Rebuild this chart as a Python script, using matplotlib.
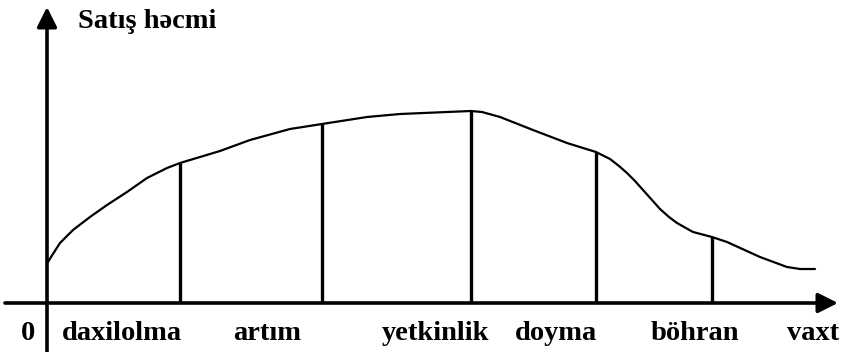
import numpy as np
import matplotlib
matplotlib.use("Agg")
import matplotlib.pyplot as plt

# Product life-cycle curve (time vs sales volume)
time = [1, 4, 13, 26, 43, 60, 80, 100, 120, 133, 153, 173, 203, 243, 275, 320, 353,
        400, 424, 435, 453, 486, 520, 536, 549, 563, 572, 580, 588, 596, 605, 613, 622,
        630, 646, 665, 680, 713, 740, 753, 768]
sales = [41, 46, 60, 73, 86, 98, 111, 125, 135, 140, 146, 152, 163, 174, 179, 186, 189,
         191, 192, 191, 186, 173, 160, 155, 151, 144, 137, 130, 122, 113, 103, 94, 86,
         80, 71, 66, 61, 46, 36, 34, 34]

# Stage boundaries along time axis
boundaries = [133, 275, 424, 549, 665]

# Texts
stage_labels = ["daxilolma", "artım", "yetkinlik", "doyma", "böhran"]
origin_label = "0"
x_label = "vaxt"
y_label = "Satış həcmi"

# Layout (positions of labels, in data units)
stage_label_x = [75, 220, 388, 509, 648]
label_y = -31

fig = plt.figure(figsize=(8.43, 3.52), dpi=100)
ax = fig.add_axes([0, 0, 1, 1])
ax.set_xlim(-47, 796)
ax.set_ylim(-49, 303)
ax.axis("off")

font = dict(family=["Liberation Serif", "DejaVu Serif"], fontweight="bold",
            fontsize=20.5, color="black")

# axes with arrows
arrow = dict(arrowstyle="-|>,head_length=0.6,head_width=0.3", lw=2.6,
             color="black", mutation_scale=20, shrinkA=0, shrinkB=0)
ax.annotate("", xy=(791, 0), xytext=(-42, 0), arrowprops=arrow)
ax.annotate("", xy=(0, 296), xytext=(0, -49), arrowprops=arrow)

# curve
ax.plot(time, sales, color="black", lw=1.6, solid_capstyle="round",
        solid_joinstyle="round")

# vertical stage boundaries
tops = np.interp(boundaries, time, sales)
ax.vlines(boundaries, 0, tops, color="black", lw=2.4)

# labels
for lab, xc in zip(stage_labels, stage_label_x):
    ax.text(xc, label_y, lab, ha="center", va="center", **font)
ax.text(-19.5, label_y, origin_label, ha="center", va="center", **font)
ax.text(766, label_y, x_label, ha="center", va="center", **font)
ax.text(31, 282, y_label, ha="left", va="center", **font)

fig.savefig("out.png", dpi=100, facecolor="white")
